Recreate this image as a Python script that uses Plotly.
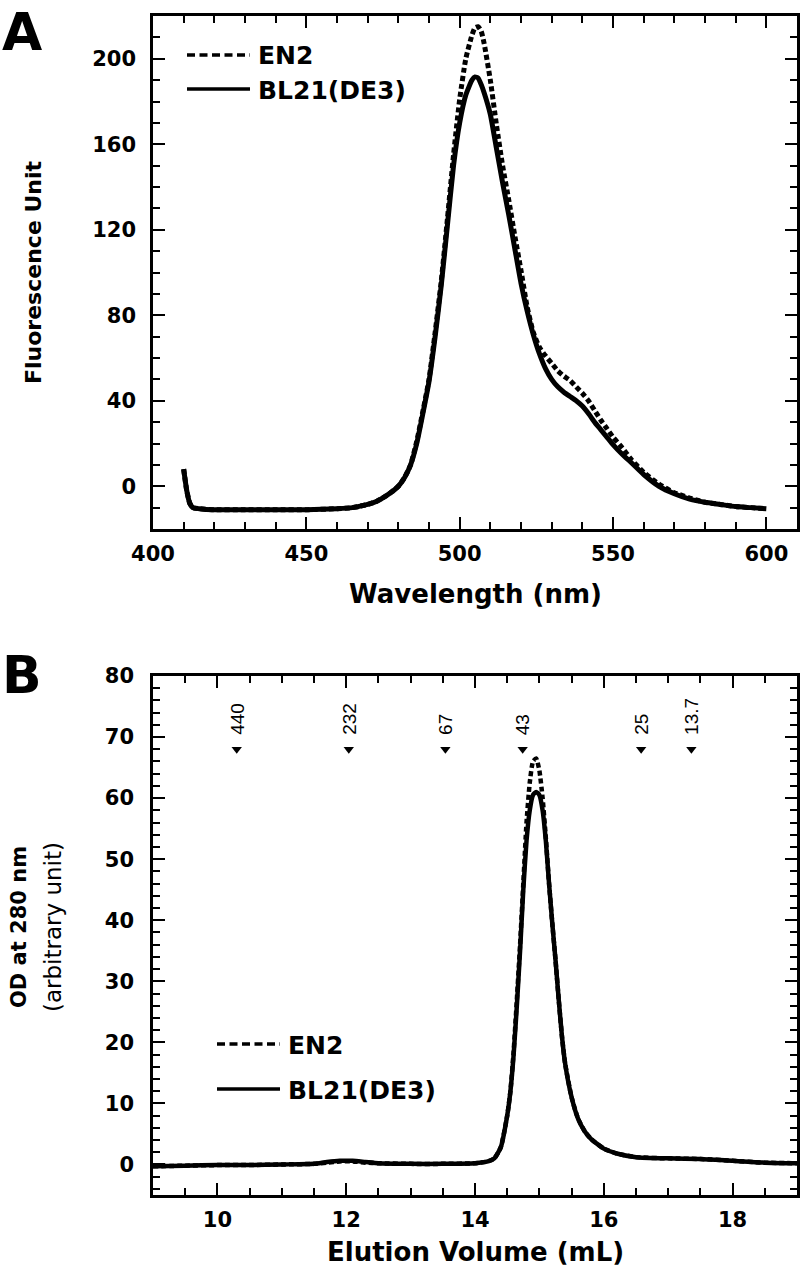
import plotly.graph_objects as go

# ---------------- Panel A data: fluorescence emission spectra ----------------
wavelength = [410, 411, 412, 413, 415, 420, 430, 440, 450, 460, 465, 470, 473, 476, 478,
              480, 482, 484, 486, 488, 490, 492, 494, 496, 498, 500, 502, 504, 505, 506,
              507, 508, 510, 512, 514, 516, 518, 520, 522, 524, 526, 528, 530, 532, 534,
              536, 538, 540, 542, 544, 546, 548, 550, 553, 556, 560, 565, 570, 575, 580,
              585, 590, 595, 600]
en2_fluor = [8, -2, -8, -10, -10.5, -11, -11, -11, -11, -10.5, -10, -8.5, -7, -4.5, -2.5,
             0, 4, 10, 21, 35, 50, 72, 96, 125, 155, 181, 200, 211, 214.5, 215,
             213, 207, 190, 169, 150, 134, 117, 101, 84, 72, 65, 61, 57.5, 54, 51.5,
             49.5, 46.5, 43.5, 40, 35.5, 31, 27, 23, 18, 12.5, 6.5, 1, -3, -5.5, -7.5,
             -8.5, -9.5, -10, -10.5]
bl21_fluor = [8, -2, -8, -10, -10.5, -11, -11, -11, -11, -10.5, -10, -8.5, -7, -4.5, -2.5,
              0, 4, 10, 20, 34, 49, 70, 94, 122, 150, 170, 183, 190, 191.5, 191,
              188, 184, 174, 158, 142, 127, 111, 95, 82, 71, 62, 55, 50, 46.5, 44,
              42, 40, 37.5, 34, 30, 26.5, 23, 19.5, 15, 11, 5.5, 0, -3.5, -6, -7.5,
              -8.5, -9.5, -10, -10.5]

# ---------------- Panel B data: gel filtration elution profiles ----------------
elution = [9.0, 9.5, 10.0, 10.5, 11.0, 11.5, 11.7, 11.9, 12.1, 12.3, 12.5, 13.0, 13.5, 14.0,
           14.2, 14.3, 14.4, 14.5, 14.55, 14.6, 14.65, 14.7, 14.75, 14.8, 14.85, 14.9, 14.95,
           15.0, 15.05, 15.1, 15.15, 15.2, 15.25, 15.3, 15.35, 15.4, 15.5, 15.6, 15.7, 15.8,
           16.0, 16.2, 16.5, 17.0, 17.5, 18.0, 18.5, 19.0]
en2_od = [-0.3, -0.2, -0.1, -0.1, 0.0, 0.1, 0.3, 0.5, 0.5, 0.3, 0.2, 0.1, 0.1, 0.2,
          0.5, 1.0, 2.8, 8, 12, 18.5, 27, 36, 46, 56, 62.5, 66, 66.5,
          64.5, 60, 53.5, 46, 39.5, 33.5, 27, 21, 16.5, 11, 7.5, 5.5, 4.2,
          2.6, 1.8, 1.2, 1.0, 0.9, 0.6, 0.3, 0.2]
bl21_od = [-0.3, -0.2, -0.1, -0.1, 0.0, 0.1, 0.4, 0.6, 0.6, 0.4, 0.2, 0.1, 0.1, 0.2,
           0.5, 1.0, 2.8, 8, 12, 18, 26, 35, 45, 53, 58, 60.5, 61,
           60.5, 58, 53, 46, 39.5, 33.5, 27, 21, 16.5, 11, 7.5, 5.5, 4.2,
           2.6, 1.8, 1.2, 1.0, 0.9, 0.6, 0.3, 0.2]

# molecular weight standards (kDa) and their elution volumes
marker_volume = [10.30, 12.04, 13.54, 14.74, 16.58, 17.36]
marker_kda = ["440", "232", "67", "43", "25", "13.7"]
marker_level = 68
marker_label_level = 70

series_names = ["EN2", "BL21(DE3)"]

W, H = 800, 1278
def px(x):
    return x / W
def py(y):
    return 1 - y / H

BOLD = "DejaVu Sans"
fig = go.Figure()

dash_style = "5px,3px"
fig.add_trace(go.Scatter(x=wavelength, y=bl21_fluor, mode="lines", name=series_names[1],
                         line=dict(color="black", width=5, shape="spline", smoothing=0.5),
                         xaxis="x", yaxis="y", showlegend=False))
fig.add_trace(go.Scatter(x=wavelength, y=en2_fluor, mode="lines", name=series_names[0],
                         line=dict(color="black", width=5, dash=dash_style, shape="spline", smoothing=0.5),
                         xaxis="x", yaxis="y", showlegend=False))
fig.add_trace(go.Scatter(x=elution, y=bl21_od, mode="lines", name=series_names[1],
                         line=dict(color="black", width=4.5, shape="spline", smoothing=0.5),
                         xaxis="x2", yaxis="y2", showlegend=False))
fig.add_trace(go.Scatter(x=elution, y=en2_od, mode="lines", name=series_names[0],
                         line=dict(color="black", width=4.5, dash=dash_style, shape="spline", smoothing=0.5),
                         xaxis="x2", yaxis="y2", showlegend=False))
fig.add_trace(go.Scatter(x=marker_volume, y=[marker_level] * len(marker_volume), mode="markers",
                         marker=dict(symbol="triangle-down", size=9, color="black"),
                         xaxis="x2", yaxis="y2", showlegend=False, hoverinfo="skip"))

tickfont = dict(family=BOLD, size=21, color="black", weight="bold")
def axis(domain, rng, dtick, minor_dtick, tick0=0, standoff=10):
    return dict(domain=domain, range=rng, dtick=dtick, tick0=tick0, automargin=False,
                showline=True, linecolor="black", linewidth=2.5, mirror="allticks",
                ticks="inside", ticklen=12, tickwidth=2, tickcolor="black",
                showgrid=False, zeroline=False, tickfont=tickfont,
                ticklabelstandoff=standoff,
                minor=dict(ticks="inside", ticklen=7, tickwidth=2, tickcolor="black",
                           dtick=minor_dtick, tick0=tick0, showgrid=False))

xa_dom = [px(153), px(797)]
fig.update_layout(
    template="none",
    width=W, height=H, margin=dict(l=0, r=0, t=0, b=0, pad=0), autosize=False,
    paper_bgcolor="white", plot_bgcolor="white", showlegend=False,
    xaxis=dict(axis(xa_dom, [400, 610], 50, 10, 0, 4), anchor="y"),
    yaxis=dict(axis([py(529), py(16)], [-20, 220], 40, 10, 0, 10), anchor="x"),
    xaxis2=dict(axis(xa_dom, [9, 19], 2, 0.5, 0, 4), anchor="y2"),
    yaxis2=dict(axis([py(1195), py(676)], [-5, 80], 10, 2, 0, 12), anchor="x2"),
)

def text_ann(text, x, y, size, angle=0, xanchor="center", yanchor="middle", **kw):
    d = dict(text=text, x=x, y=y, xref="paper", yref="paper", xanchor=xanchor, yanchor=yanchor,
             textangle=angle, showarrow=False, font=dict(family=BOLD, size=size, color="black"))
    d.update(kw)
    return d

ann = []
# panel letters
ann.append(text_ann("<b>A</b>", 0, 1, 52, xanchor="left", yanchor="top"))
ann.append(text_ann("<b>B</b>", 0, py(643), 52, xanchor="left", yanchor="top"))
# axis titles
ann.append(text_ann("<b>Wavelength (nm)</b>", px(475), py(594), 26))
ann.append(text_ann("<b>Fluorescence Unit</b>", px(34), py(272), 22, angle=-90))
ann.append(text_ann("<b>Elution Volume (mL)</b>", px(475), py(1252), 26))
ann.append(text_ann("<b>OD at 280 nm</b>", px(19), py(927), 21, angle=-90))
ann.append(text_ann("(arbitrary unit)", px(53), py(927), 23, angle=-90))
# marker labels
for v, lab in zip(marker_volume, marker_kda):
    ann.append(dict(text=lab, x=v, y=marker_label_level, xref="x2", yref="y2", textangle=-90,
                    xanchor="center", yanchor="bottom", showarrow=False,
                    font=dict(family="Liberation Sans Narrow, Liberation Sans", size=19, color="black")))

# manual legends
shapes = []
def legend(x0, x1, xt, y_en2, y_bl21):
    shapes.append(dict(type="line", xref="paper", yref="paper", x0=px(x0), x1=px(x1), y0=py(y_en2), y1=py(y_en2),
                       line=dict(color="black", width=3.5, dash="8px,4.5px")))
    shapes.append(dict(type="line", xref="paper", yref="paper", x0=px(x0), x1=px(x1), y0=py(y_bl21), y1=py(y_bl21),
                       line=dict(color="black", width=3.5)))
    ann.append(text_ann("<b>%s</b>" % series_names[0], px(xt), py(y_en2 + 1), 25, xanchor="left"))
    ann.append(text_ann("<b>%s</b>" % series_names[1], px(xt), py(y_bl21 + 1), 25, xanchor="left"))

legend(187, 250, 256, 55, 89)
legend(217, 280, 286, 1044, 1089)

fig.update_layout(annotations=ann, shapes=shapes)
fig.write_html("out.html", config={"displayModeBar": False},
               post_script="document.body.style.margin='0px';")
